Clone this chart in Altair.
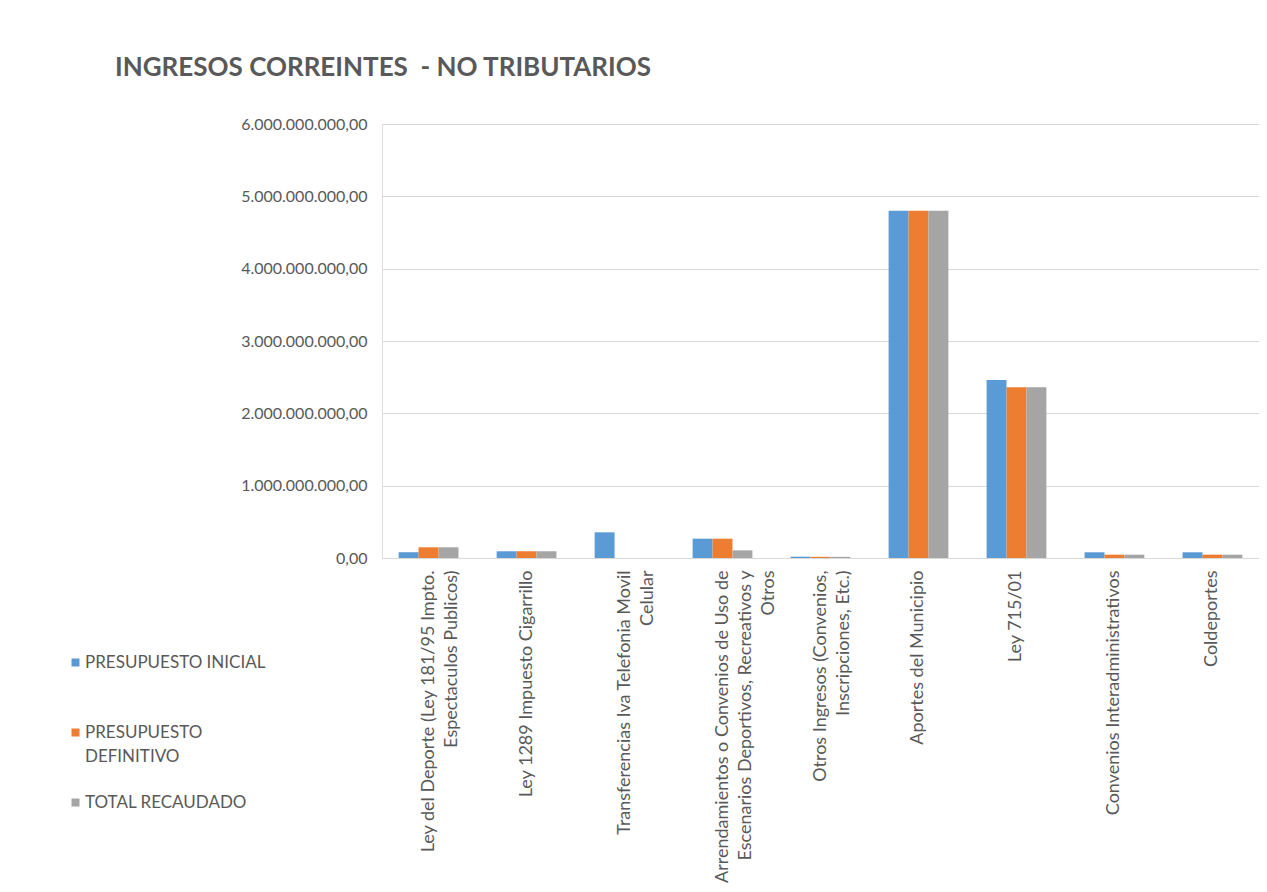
import altair as alt
import pandas as pd

categories = [
    "Ley del Deporte (Ley 181/95 Impto.|Espectaculos Publicos)",
    "Ley 1289 Impuesto Cigarrillo",
    "Transferencias Iva Telefonia Movil|Celular",
    "Arrendamientos o Convenios de Uso de|Escenarios Deportivos, Recreativos y|Otros",
    "Otros Ingresos (Convenios,|Inscripciones, Etc.)",
    "Aportes del Municipio",
    "Ley 715/01",
    "Convenios Interadministrativos",
    "Coldeportes",
]
series = ["PRESUPUESTO INICIAL", "PRESUPUESTO DEFINITIVO", "TOTAL RECAUDADO"]
presupuesto_inicial = [80e6, 93e6, 355e6, 267e6, 18e6, 4.80e9, 2.46e9, 79e6, 79e6]
presupuesto_definitivo = [148e6, 93e6, 0, 267e6, 16e6, 4.80e9, 2.36e9, 46e6, 46e6]
total_recaudado = [148e6, 93e6, 0, 106e6, 16e6, 4.80e9, 2.36e9, 46e6, 46e6]
colors = ["#5B9BD5", "#ED7D31", "#A5A5A5"]
y_ticks = [0, 1e9, 2e9, 3e9, 4e9, 5e9, 6e9]

rows = []
for name, vals in zip(series, [presupuesto_inicial, presupuesto_definitivo, total_recaudado]):
    for c, v in zip(categories, vals):
        rows.append({"categoria": c, "serie": name, "valor": v})
df = pd.DataFrame(rows)

TXT = "#595959"
FONT = "Lato"

y_label_expr = (
    "replace(replace(replace(format(datum.value, ',.2f'), regexp(',', 'g'), '#'), "
    "regexp('\\\\.', 'g'), ','), regexp('#', 'g'), '.')"
)

legend_expr = (
    "datum.label == 'PRESUPUESTO DEFINITIVO' ? ['PRESUPUESTO', 'DEFINITIVO'] : [datum.label, ' ']"
)

chart = alt.Chart(df).mark_bar().encode(
    x=alt.X(
        "categoria:N",
        sort=categories,
        scale=alt.Scale(paddingInner=0.39, paddingOuter=0.17),
        axis=alt.Axis(
            title=None,
            labelAngle=-90,
            labelExpr="split(datum.label, '|')",
            labelFontSize=18,
            labelColor=TXT,
            labelFont=FONT,
            labelLineHeight=23,
            labelPadding=12,
            labelLimit=400,
            ticks=False,
            domainColor="#D9D9D9",
        ),
    ),
    xOffset=alt.XOffset("serie:N", sort=series),
    y=alt.Y(
        "valor:Q",
        scale=alt.Scale(domain=[0, 6e9], nice=False),
        axis=alt.Axis(
            title=None,
            values=y_ticks,
            labelExpr=y_label_expr,
            grid=True,
            gridColor="#D9D9D9",
            domain=False,
            ticks=False,
            labelPadding=15,
            labelFontSize=16,
            labelColor=TXT,
            labelFont=FONT,
        ),
    ),
    color=alt.Color(
        "serie:N",
        sort=series,
        scale=alt.Scale(domain=series, range=colors),
        legend=alt.Legend(
            title=None,
            orient="none",
            legendX=-315,
            legendY=530,
            symbolType="square",
            symbolSize=64,
            symbolStrokeWidth=0,
            labelFontSize=17,
            labelColor=TXT,
            labelFont=FONT,
            labelLimit=300,
            labelOffset=1,
            rowPadding=28,
            labelExpr=legend_expr,
        ),
    ),
).properties(
    width=877,
    height=434,
    padding={"left": 374, "top": 116, "right": 0, "bottom": 326},
    autosize=alt.AutoSizeParams(type="none"),
    title=alt.TitleParams(
        text="INGRESOS CORREINTES \u00a0- NO TRIBUTARIOS",
        anchor="start",
        frame="group",
        font=FONT,
        fontSize=26,
        fontWeight="bold",
        color=TXT,
        dx=-267,
        offset=14,
        baseline="alphabetic",
    ),
).configure_view(stroke=None).configure(
    font=FONT, background="white", style={"guide-label": {"lineHeight": 24}}
)

chart.save("out.html", embed_options={"renderer": "svg", "actions": False})
